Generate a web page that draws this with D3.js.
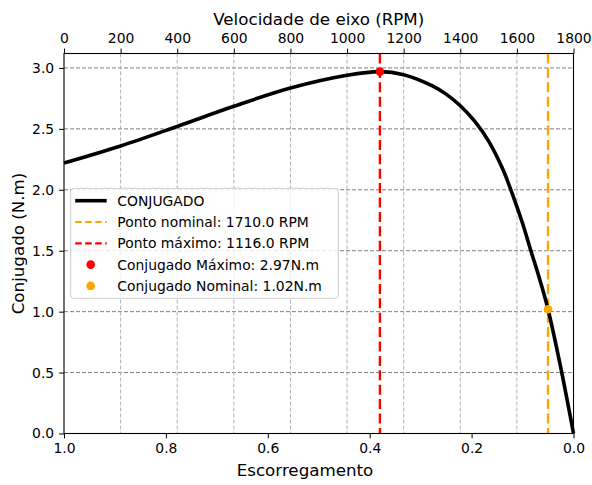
<!DOCTYPE html>
<html>
<head>
<meta charset="utf-8">
<script src="https://cdn.jsdelivr.net/npm/d3@7"></script>
<style>
  body { margin: 0; background: #fff; }
  svg { display: block; font-family: "DejaVu Sans", sans-serif; }
</style>
</head>
<body>
<div id="chart"></div>
<script>
// Curva de conjugado (velocidade em RPM)
const rpm = [0, 200, 400, 600, 800, 1000, 1116, 1200, 1300, 1350, 1400, 1450, 1500, 1550, 1588, 1620, 1648, 1680, 1710, 1755, 1800];
const torque = [2.22, 2.36, 2.52, 2.685, 2.835, 2.94, 2.97, 2.945, 2.855, 2.785, 2.69, 2.565, 2.40, 2.17, 1.94, 1.725, 1.51, 1.27, 1.02, 0.54, 0];

const syncRpm = 1800;
const maxRpm = 1116.0, maxTorque = 2.97;
const nominalRpm = 1710.0, nominalTorque = 1.02;

const rpmTicks = [0, 200, 400, 600, 800, 1000, 1200, 1400, 1600, 1800];
const slipTicks = [1.0, 0.8, 0.6, 0.4, 0.2, 0.0];
const torqueTicks = [0, 0.5, 1.0, 1.5, 2.0, 2.5, 3.0];

const W = 592, H = 485;
const m = { left: 64, right: 18.5, top: 53.5, bottom: 51.5 };
const iw = W - m.left - m.right, ih = H - m.top - m.bottom;

const svg = d3.select('#chart').append('svg').attr('width', W).attr('height', H);
const g = svg.append('g').attr('transform', `translate(${m.left},${m.top})`);

const x = d3.scaleLinear().domain([0, syncRpm]).range([0, iw]);
const xs = d3.scaleLinear().domain([1, 0]).range([0, iw]);
const y = d3.scaleLinear().domain([0, maxTorque * 1.05]).range([ih, 0]);

// grade
g.append('g').selectAll('line').data(torqueTicks.filter(d => d > 0)).enter().append('line')
    .attr('x1', 0).attr('x2', iw).attr('y1', d => y(d)).attr('y2', d => y(d))
    .attr('stroke', '#808080').attr('stroke-width', 1).attr('stroke-dasharray', '4,2');
g.append('g').selectAll('line').data(rpmTicks.filter(d => d > 0 && d < syncRpm)).enter().append('line')
    .attr('x1', d => x(d)).attr('x2', d => x(d)).attr('y1', 0).attr('y2', ih)
    .attr('stroke', '#b0b0b0').attr('stroke-width', 1).attr('stroke-dasharray', '4,2');

// linhas verticais
g.append('line').attr('x1', x(nominalRpm)).attr('x2', x(nominalRpm)).attr('y1', 0).attr('y2', ih)
    .attr('stroke', 'orange').attr('stroke-width', 2.4).attr('stroke-dasharray', '10,4.4');
g.append('line').attr('x1', x(maxRpm)).attr('x2', x(maxRpm)).attr('y1', 0).attr('y2', ih)
    .attr('stroke', 'red').attr('stroke-width', 2.4).attr('stroke-dasharray', '10,4.4');

// curva
const pts = rpm.map((r, i) => [r, torque[i]]);
g.append('path').datum(pts)
    .attr('fill', 'none').attr('stroke', '#000').attr('stroke-width', 3.6)
    .attr('d', d3.line().x(d => x(d[0])).y(d => y(d[1])).curve(d3.curveCatmullRom.alpha(0.5)));

// pontos
g.append('circle').attr('cx', x(maxRpm)).attr('cy', y(maxTorque)).attr('r', 4.3).attr('fill', 'red');
g.append('circle').attr('cx', x(nominalRpm)).attr('cy', y(nominalTorque)).attr('r', 4.3).attr('fill', 'orange');

// eixos
function styleAxis(sel) {
    sel.attr('font-family', '"DejaVu Sans", sans-serif').attr('font-size', 13.9);
    sel.selectAll('text').attr('fill', '#000');
    sel.selectAll('line').attr('stroke', '#000').attr('stroke-width', 1);
    sel.select('.domain').remove();
}
g.append('g').attr('transform', `translate(0,${ih})`)
    .call(d3.axisBottom(xs).tickValues(slipTicks).tickFormat(d3.format('.1f')).tickSize(4.9).tickPadding(4.9))
    .call(styleAxis);
g.append('g')
    .call(d3.axisTop(x).tickValues(rpmTicks).tickFormat(d3.format('d')).tickSize(4.9).tickPadding(5.5))
    .call(styleAxis);
g.append('g')
    .call(d3.axisLeft(y).tickValues(torqueTicks).tickFormat(d3.format('.1f')).tickSize(4.9).tickPadding(4.9))
    .call(styleAxis);

// moldura
g.append('rect').attr('width', iw).attr('height', ih).attr('fill', 'none')
    .attr('stroke', '#000').attr('stroke-width', 1.1);

// rótulos
svg.append('text').attr('x', 305).attr('y', 476).attr('text-anchor', 'middle')
    .attr('font-size', 16.7).text('Escorregamento');
svg.append('text').attr('x', m.left + iw / 2).attr('y', 25).attr('text-anchor', 'middle')
    .attr('font-size', 16.7).text('Velocidade de eixo (RPM)');
svg.append('text').attr('transform', `translate(24,${m.top + ih / 2}) rotate(-90)`)
    .attr('text-anchor', 'middle').attr('font-size', 16.7).text('Conjugado (N.m)');

// legenda
const legendItems = [
    { label: 'CONJUGADO', type: 'line', color: '#000' },
    { label: `Ponto nominal: ${nominalRpm.toFixed(1)} RPM`, type: 'dash', color: 'orange' },
    { label: `Ponto máximo: ${maxRpm.toFixed(1)} RPM`, type: 'dash', color: 'red' },
    { label: `Conjugado Máximo: ${maxTorque.toFixed(2)}N.m`, type: 'dot', color: 'red' },
    { label: `Conjugado Nominal: ${nominalTorque.toFixed(2)}N.m`, type: 'dot', color: 'orange' }
];
const lg = svg.append('g').attr('transform', 'translate(70.7,188.3)');
lg.append('rect').attr('width', 267.6).attr('height', 110).attr('rx', 3)
    .attr('fill', '#fff').attr('fill-opacity', 0.8).attr('stroke', '#cccccc').attr('stroke-width', 1);
const item = lg.selectAll('g.item').data(legendItems).enter().append('g')
    .attr('transform', (d, i) => `translate(0,${12.4 + i * 21.3})`);
item.filter(d => d.type !== 'dot').append('line')
    .attr('x1', 4.5).attr('x2', 36).attr('y1', 0).attr('y2', 0)
    .attr('stroke', d => d.color)
    .attr('stroke-width', d => d.type === 'line' ? 3.6 : 2.2)
    .attr('stroke-dasharray', d => d.type === 'dash' ? '6.5,3.5' : null);
item.filter(d => d.type === 'dot').append('circle')
    .attr('cx', 20).attr('cy', 0).attr('r', 4.3).attr('fill', d => d.color);
item.append('text').attr('x', 46.6).attr('y', 0).attr('dy', '0.36em')
    .attr('font-size', 13.9).text(d => d.label);
</script>
</body>
</html>
